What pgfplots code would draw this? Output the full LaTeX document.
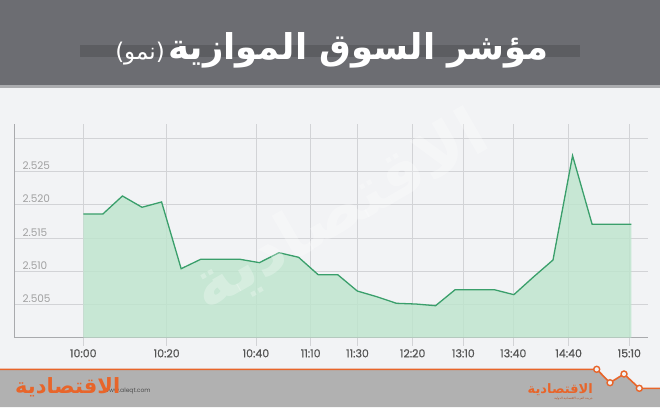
\documentclass[border=0pt]{standalone}
\usepackage{pgfplots}
\pgfplotsset{compat=1.18}
\usepackage{fontspec}
\setmainfont{Poppins}
\newfontfamily\popmed[FakeBold=0.6]{Poppins}
\newfontfamily\arabicfont[Script=Arabic]{DejaVu Sans}
\TeXXeTstate=1
\definecolor{band}{HTML}{6C6D72}
\definecolor{bandbar}{HTML}{5C5D61}
\definecolor{strip}{HTML}{ABACAF}
\definecolor{bg}{HTML}{F2F3F5}
\definecolor{foot}{HTML}{B1B1B1}
\definecolor{orng}{HTML}{E8652A}
\definecolor{gfill}{RGB}{190,229,205}
\definecolor{gline}{HTML}{3A9F6B}
\definecolor{gridc}{HTML}{D2D3D6}
\definecolor{axc}{HTML}{A9AAAD}
\definecolor{ylab}{HTML}{A0A0A0}
\definecolor{xlab}{HTML}{555555}

\pgfplotstableread{
i v
0 2.51863
1 2.51863
2 2.52134
3 2.51964
4 2.52044
5 2.51039
6 2.51181
7 2.51181
8 2.51181
9 2.51130
10 2.51280
11 2.51211
12 2.50949
13 2.50949
14 2.50703
15 2.50617
16 2.50518
17 2.50507
18 2.50482
19 2.50723
20 2.50723
21 2.50723
22 2.50648
23 2.50914
24 2.51170
25 2.52741
26 2.51708
27 2.51708
28 2.51708
}\datatable

\begin{document}
\begin{tikzpicture}
\useasboundingbox (0,0) rectangle (660pt,407pt);
\begin{scope}[x=1pt,y=1pt,yshift=407pt,yscale=-1]
  % backgrounds
  \fill[bg] (0,0) rectangle (660,407);
  \fill[band] (0,0) rectangle (660,85);
  \fill[strip] (0,85) rectangle (660,88);
  \fill[bandbar] (80,45) rectangle (580,57);
  % footer
  \fill[foot] (0,369.3) -- (596.7,369.3) -- (610,382.7) -- (624,374) -- (639.3,388.3) -- (660,388.3) -- (660,407) -- (0,407) -- cycle;
  \draw[orng, line width=1.6pt] (0,369.3) -- (596.7,369.3) -- (610,382.7) -- (624,374) -- (639.3,388.3) -- (660,388.3);
  \foreach \p in {(596.7,369.3),(610,382.7),(624,374),(639.3,388.3)}
    \filldraw[draw=orng, fill=bg, line width=1.4pt] \p circle (3);
  % title
  \node[text=white, anchor=base east, inner sep=0pt, font=\arabicfont\bfseries\fontsize{35.5}{40}\selectfont] at (549,60) {\beginR مؤشر السوق الموازية\endR};
  \node[text=white, anchor=base east, inner sep=0pt, font=\arabicfont\fontsize{23}{26}\selectfont] at (165,60) {)\beginR نمو\endR(};
  % footer texts
  \node[text=black!70, anchor=base west, inner sep=0pt, font=\fontsize{6}{7}\selectfont] at (104,392) {www.aleqt.com};
  \node[text=orng, anchor=base west, inner sep=0pt, font=\arabicfont\bfseries\fontsize{21}{24}\selectfont] at (15,393) {\beginR الاقتصادية\endR};
  \node[text=orng, anchor=base east, inner sep=0pt, font=\arabicfont\bfseries\fontsize{13}{15}\selectfont] at (593,393) {\beginR الاقتصادية\endR};
  \node[text=orng!80!black, anchor=base east, inner sep=0pt, font=\arabicfont\fontsize{3}{4}\selectfont] at (593,399) {\beginR جريدة العرب الاقتصادية الدولية\endR};
\end{scope}

\begin{axis}[
  at={(14pt,69.3pt)}, anchor=south west,
  width=634pt, height=213.7pt, scale only axis,
  xmin=-3.541, xmax=28.855, ymin=2.5, ymax=2.53218,
  axis x line*=bottom, axis y line*=left,
  axis line style={draw=axc, line width=0.9pt, -},
  xtick={0,4.26,8.82,11.62,14.01,16.83,19.42,21.97,24.8,27.9},
  xticklabels={10:00,10:20,10:40,11:10,11:30,12:20,13:10,13:40,14:40,15:10},
  ytick={2.505,2.51,2.515,2.52,2.525,2.53},
  yticklabels={2.505,2.510,2.515,2.520,2.525,},
  xmajorgrids, ymajorgrids,
  grid style={draw=gridc, line width=0.8pt},
  y tick style={draw=none},
  x tick style={draw=gridc, line width=0.8pt},
  tick align=outside, major tick length=8pt,
  yticklabel style={anchor=base west, xshift=13pt, yshift=2pt, text=ylab, font=\fontsize{10.5}{12}\selectfont},
  xticklabel style={text=xlab, font=\popmed\fontsize{11}{13}\selectfont},
]
\addplot[draw=none, fill=gfill, fill opacity=0.82] table[x=i,y=v] {\datatable} \closedcycle;
\addplot[draw=gline, line width=1.3pt, mark=none] table[x=i,y=v] {\datatable};
\end{axis}

\node[text=white, opacity=0.28, rotate=30, font=\arabicfont\bfseries\fontsize{66}{70}\selectfont] at (340pt,195pt) {\beginR الاقتصادية\endR};
\end{tikzpicture}
\end{document}
